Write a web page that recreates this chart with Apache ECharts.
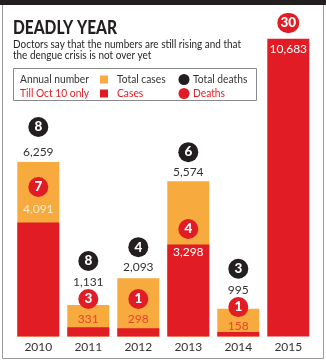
<!DOCTYPE html>
<html>
<head>
<meta charset="utf-8">
<script src="https://cdn.jsdelivr.net/npm/echarts@6/dist/echarts.min.js"></script>
<style>
  html, body { margin: 0; padding: 0; background: #fff; }
  #chart { width: 326px; height: 362px; }
</style>
</head>
<body>
<div id="chart"></div>
<script>
// Dengue in the capital: yearly cases and deaths
const years = ['2010', '2011', '2012', '2013', '2014', '2015'];
const totalCases = [6259, 1131, 2093, 5574, 995, null];
const totalDeaths = [8, 8, 4, 6, 3, null];
const casesTillOct10 = [4091, 331, 298, 3298, 158, 10683];
const deathsTillOct10 = [7, 3, 1, 4, 1, 30];

const ORANGE = '#f7aa3d';
const RED = '#e21c24';
const INK = '#231f20';
const TEXT = '#333333';
const FONT = 'Lato, "Noto Sans", sans-serif';

// vertical label shifts (px from the top of the bar they belong to)
const totalTextShift = [-10, -23, -11, -9, -19, 0];
const totalDotShift = [-35, -44, -31, -29, -40, 0];
const caseDotShift = [-35.5, -28.3, -29.2, -15.6, -25, -15.8];
const caseTextShift = [-13.5, -8.3, -9.2, 7.4, -6, 10.2];
const caseTextColor = ['#fdebd0', '#e8452c', '#e8452c', '#ffffff', '#e8452c', '#ffffff'];

const fmt = v => v.toLocaleString('en-US');

// horizontal squeeze so a line of text spans a set width (condensed type look)
const measureCtx = document.createElement('canvas').getContext('2d');
function squeeze(text, font, width) {
  measureCtx.font = font;
  return width / measureCtx.measureText(text).width;
}

function labelled(values, build) {
  return values.map((v, i) => v == null ? null : { value: v, label: build(v, i) });
}

const numLabel = (shift, color) => (v, i) => ({
  show: true,
  position: ['50%', 0],
  offset: [0, shift[i]],
  align: 'center',
  verticalAlign: 'middle',
  formatter: fmt(v),
  color: typeof color === 'string' ? color : color[i],
  fontFamily: FONT,
  fontSize: 12
});

const dotLabel = (shift, fill, counts) => (v, i) => ({
  show: true,
  position: ['50%', 0],
  offset: [0, shift[i]],
  align: 'center',
  verticalAlign: 'middle',
  formatter: String(counts[i]),
  color: '#fff',
  fontFamily: FONT,
  fontWeight: 900,
  fontSize: 13.5,
  backgroundColor: fill,
  width: String(counts[i]).length > 1 ? 22 : 20,
  height: 20,
  lineHeight: 20,
  borderRadius: 10
});

const TITLE_FONT = '900 18.5px ' + FONT;
const SUB_FONT = '11.5px ' + FONT;
const LEG_FONT = '11.5px ' + FONT;
const titleScale = squeeze('DEADLY YEAR', TITLE_FONT, 104);
const subScale = squeeze('Doctors say that the numbers are still rising and that', SUB_FONT, 228);
const legScale = squeeze('Annual number', LEG_FONT, 69);

const textEl = (x, y, text, color, font, scale) => ({
  type: 'text', x: x, y: y, scaleX: scale, z: 10,
  style: { text: text, fill: color, font: font, verticalAlign: 'middle' }
});

const legendRow = (y, color, head, a, b, dotColor) => [
  textEl(20, y, head, color, LEG_FONT, legScale),
  { type: 'rect', shape: { x: 100, y: y - 4, width: 8, height: 8 }, style: { fill: a.fill } },
  textEl(117, y, a.text, color, LEG_FONT, legScale),
  { type: 'circle', shape: { cx: 184, cy: y, r: 5.5 }, style: { fill: dotColor } },
  textEl(193, y, b, color, LEG_FONT, legScale)
];

const chart = echarts.init(document.getElementById('chart'), null, { renderer: 'canvas' });

chart.setOption({
  animation: false,
  graphic: [
    { type: 'rect', shape: { x: 0, y: 0, width: 326, height: 5 }, style: { fill: INK } },
    { type: 'line', shape: { x1: 2.5, y1: 5, x2: 2.5, y2: 358.5 }, style: { stroke: '#9a9a9a', lineWidth: 1 } },
    { type: 'line', shape: { x1: 323.5, y1: 5, x2: 323.5, y2: 358.5 }, style: { stroke: '#9a9a9a', lineWidth: 1 } },
    { type: 'line', shape: { x1: 2.5, y1: 358.5, x2: 323.5, y2: 358.5 }, style: { stroke: '#9a9a9a', lineWidth: 1 } },
    textEl(13, 28.5, 'DEADLY YEAR', INK, TITLE_FONT, titleScale),
    textEl(13, 44.5, 'Doctors say that the numbers are still rising and that', INK, SUB_FONT, subScale),
    textEl(13, 55.5, 'the dengue crisis is not over yet', INK, SUB_FONT, subScale),
    { type: 'rect', shape: { x: 13.5, y: 68.5, width: 243, height: 32 }, style: { fill: 'none', stroke: '#8a8a8a', lineWidth: 1 } },
    ...legendRow(79.5, TEXT, 'Annual number', { fill: ORANGE, text: 'Total cases' }, 'Total deaths', INK),
    ...legendRow(93.5, RED, 'Till Oct 10 only', { fill: RED, text: 'Cases' }, 'Deaths', RED)
  ],
  grid: { left: 13.3, right: 12.7, top: 29.9, bottom: 25.5 },
  xAxis: {
    type: 'category',
    data: years,
    axisLine: { show: false },
    axisTick: { show: false },
    axisLabel: { color: TEXT, fontFamily: FONT, fontSize: 12, margin: 5 }
  },
  yAxis: { type: 'value', min: 0, max: 11000, show: false, splitLine: { show: false } },
  series: [
    {
      name: 'Total cases', type: 'bar', barWidth: 42, barGap: '-100%',
      itemStyle: { color: ORANGE },
      data: labelled(totalCases, numLabel(totalTextShift, TEXT))
    },
    {
      name: 'Cases', type: 'bar', barWidth: 42, barGap: '-100%',
      itemStyle: { color: RED },
      data: labelled(casesTillOct10, numLabel(caseTextShift, caseTextColor))
    },
    {
      name: 'Total deaths', type: 'bar', barWidth: 42, barGap: '-100%',
      itemStyle: { color: 'transparent' }, z: 5,
      data: labelled(totalCases, dotLabel(totalDotShift, INK, totalDeaths))
    },
    {
      name: 'Deaths', type: 'bar', barWidth: 42, barGap: '-100%',
      itemStyle: { color: 'transparent' }, z: 5,
      data: labelled(casesTillOct10, dotLabel(caseDotShift, RED, deathsTillOct10))
    }
  ]
});
</script>
</body>
</html>
